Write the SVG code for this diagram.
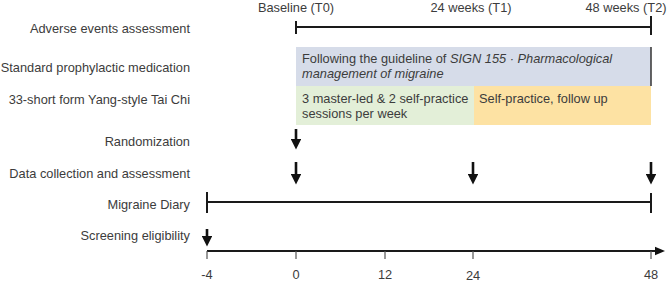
<svg xmlns="http://www.w3.org/2000/svg" width="669" height="282" viewBox="0 0 669 282">
<style>
text{font-family:"Liberation Sans",Arial,sans-serif;font-size:12.8px;fill:#3c3c3c}
.lbl{text-anchor:end}
.mid{text-anchor:middle}
.it{font-style:italic}
.tl{stroke:#1a1a1a;stroke-width:2;fill:none}
.tk{stroke:#555;stroke-width:1.2}
.ar{stroke:#111;stroke-width:2.6;marker-end:url(#ah)}
</style>
<defs>
<marker id="ah" markerWidth="4" markerHeight="4" refX="1.5" refY="2" orient="auto" markerUnits="strokeWidth" viewBox="0 0 4 4">
<path d="M0,0 L4,2 L0,4 Z" fill="#111"/>
</marker>
<marker id="ax" markerWidth="5" markerHeight="5" refX="1" refY="2.5" orient="auto" markerUnits="strokeWidth" viewBox="0 0 5 5">
<path d="M0,0.4 L5,2.5 L0,4.6 Z" fill="#111"/>
</marker>
</defs>

<g id="row-labels">
<text class="lbl" x="190" y="33">Adverse events assessment</text>
<text class="lbl" x="190" y="72">Standard prophylactic medication</text>
<text class="lbl" x="190" y="104">33-short form Yang-style Tai Chi</text>
<text class="lbl" x="190" y="146">Randomization</text>
<text class="lbl" x="190" y="178">Data collection and assessment</text>
<text class="lbl" x="190" y="209">Migraine Diary</text>
<text class="lbl" x="190" y="240">Screening eligibility</text>
</g>

<g id="header-labels">
<text class="mid" x="296" y="12">Baseline (T0)</text>
<text class="mid" x="471" y="12">24 weeks (T1)</text>
<text class="mid" x="626" y="12">48 weeks (T2)</text>
</g>

<g id="adverse-events">
<line class="tl" x1="296" y1="27" x2="651" y2="27"/>
<line class="tl" x1="296" y1="21" x2="296" y2="34"/>
<line class="tl" x1="651" y1="16" x2="651" y2="35"/>
</g>

<g id="medication">
<rect x="296" y="47" width="355" height="39" fill="#d6dce9"/>
<line x1="651" y1="47" x2="651" y2="86" stroke="#333" stroke-width="1.5"/>
<text x="302" y="63">Following the guideline of <tspan class="it">SIGN 155 · Pharmacological</tspan></text>
<text class="it" x="302" y="78">management of migraine</text>
</g>

<g id="taichi-supervised">
<rect x="296" y="86" width="178" height="39" fill="#e3efd8"/>
<text x="302" y="102.5">3 master-led &amp; 2 self-practice</text>
<text x="302" y="117.5">sessions per week</text>
</g>

<g id="taichi-self">
<rect x="474" y="86" width="177" height="39" fill="#fde2a3"/>
<text x="479" y="102.5">Self-practice, follow up</text>
</g>

<g id="migraine-diary">
<line class="tl" x1="207" y1="202" x2="651" y2="202"/>
<line class="tl" x1="207" y1="192" x2="207" y2="213"/>
<line class="tl" x1="651" y1="193" x2="651" y2="213"/>
</g>

<g id="connectors">
<line class="ar" x1="296" y1="129" x2="296" y2="143"/>
<line class="ar" x1="296" y1="162" x2="296" y2="178"/>
<line class="ar" x1="473" y1="162" x2="473" y2="178"/>
<line class="ar" x1="651" y1="162" x2="651" y2="178"/>
<line class="ar" x1="207" y1="229" x2="207" y2="240"/>
</g>

<g id="axis">
<line class="tl" x1="207" y1="251" x2="657" y2="251" marker-end="url(#ax)"/>
<line class="tk" x1="207" y1="251" x2="207" y2="259"/>
<line class="tk" x1="296" y1="251" x2="296" y2="259"/>
<line class="tk" x1="385" y1="251" x2="385" y2="259"/>
<line class="tk" x1="473" y1="251" x2="473" y2="259"/>
<line class="tk" x1="651" y1="251" x2="651" y2="259"/>
<text class="mid" x="207" y="279">-4</text>
<text class="mid" x="296" y="279">0</text>
<text class="mid" x="385" y="279">12</text>
<text class="mid" x="473" y="280">24</text>
<text class="mid" x="651" y="279">48</text>
</g>
</svg>
